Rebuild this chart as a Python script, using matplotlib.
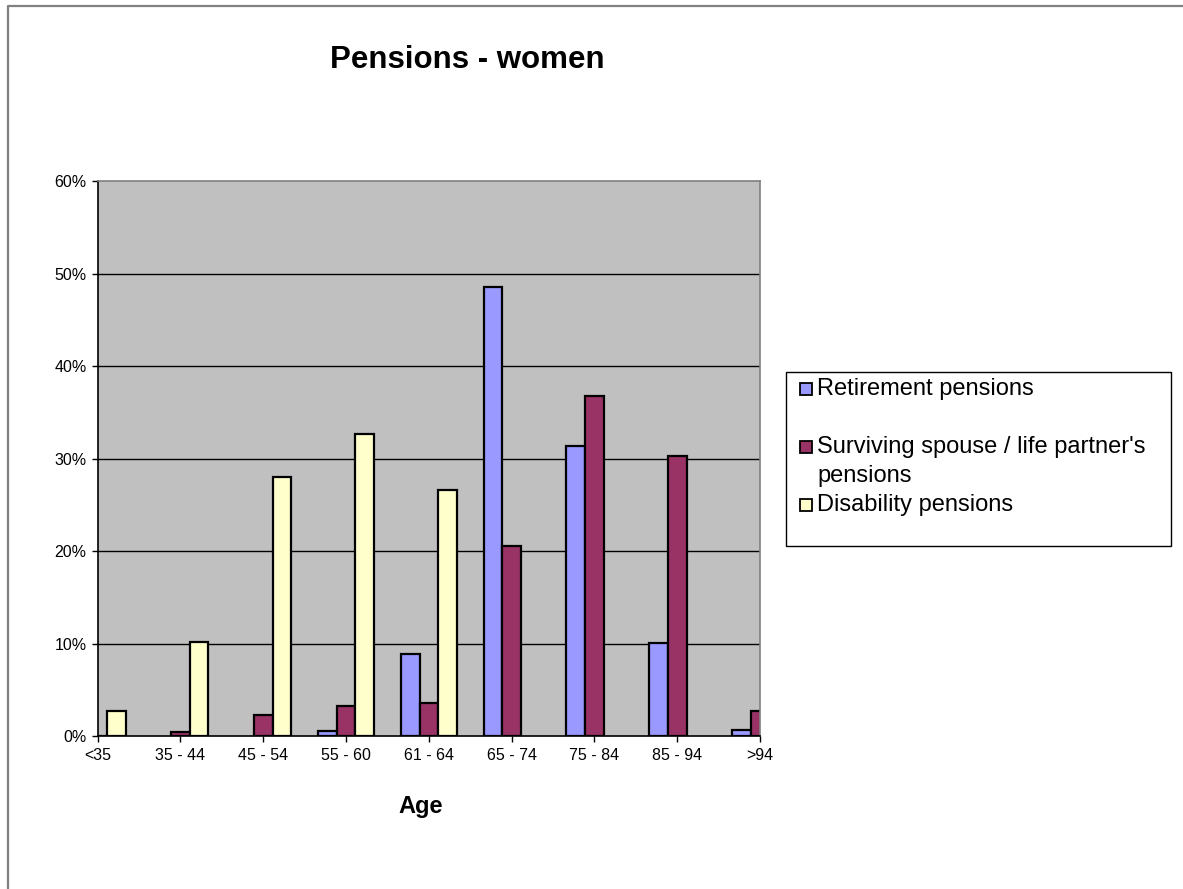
import matplotlib
matplotlib.use("Agg")
import matplotlib.pyplot as plt
import numpy as np
from matplotlib.patches import Rectangle
from matplotlib.lines import Line2D

categories = ["<35", "35 - 44", "45 - 54", "55 - 60", "61 - 64", "65 - 74", "75 - 84", "85 - 94", ">94"]
series_names = ["Retirement pensions", "Surviving spouse / life partner's\npensions", "Disability pensions"]
retirement = [0.0, 0.0, 0.0, 0.55, 8.9, 48.5, 31.4, 10.1, 0.6]
surviving = [0.05, 0.45, 2.3, 3.2, 3.6, 20.5, 36.8, 30.3, 2.75]
disability = [2.7, 10.2, 28.0, 32.6, 26.6, 0.0, 0.0, 0.0, 0.0]
colors = ["#9999FF", "#993366", "#FFFFCC"]
yticks = [0, 10, 20, 30, 40, 50, 60]

W, H = 1183, 889
plt.rcParams['font.family'] = ['Liberation Sans', 'DejaVu Sans']
fig = plt.figure(figsize=(W / 100, H / 100), dpi=100)

def fx(x):
    return x / W

def fy(y):
    return 1 - y / H

# outer chart border (left and top edges visible)
fig.add_artist(Line2D([fx(8), fx(8), fx(1183)], [fy(889), fy(5.5), fy(5.5)],
                      transform=fig.transFigure, color="#808080", lw=1.6))

left, right, top, bottom = 97.7, 760, 181, 736
ax = fig.add_axes([fx(left), fy(bottom), fx(right) - fx(left), fy(top) - fy(bottom)])
ax.set_facecolor("#C0C0C0")

x = np.arange(len(categories))
bw = 0.225
for i, (vals, c) in enumerate(zip([retirement, surviving, disability], colors)):
    edges = ["black" if v > 0 else "none" for v in vals]
    ax.bar(x + (i - 1) * bw, vals, width=bw, color=c, edgecolor=edges, linewidth=1.6, zorder=3)

ax.set_xlim(0, len(categories) - 1)
ax.set_ylim(0, 60)
ax.set_yticks(yticks)
ax.set_yticklabels([f"{v}%" for v in yticks], fontsize=11.5)
ax.set_xticks(x)
ax.set_xticklabels(categories, fontsize=11.5)
ax.tick_params(axis='both', direction='out', length=4, width=1, color="black")
ax.tick_params(axis='x', pad=5)
ax.tick_params(axis='y', pad=4)
for v in yticks[1:-1]:
    ax.axhline(v, color="black", lw=1, zorder=1)
ax.spines['left'].set_color("black")
ax.spines['bottom'].set_color("black")
ax.spines['top'].set_color("#808080")
ax.spines['right'].set_color("#808080")
for s in ax.spines.values():
    s.set_linewidth(1.2)
    s.set_zorder(4)

fig.text(fx(467), fy(60), "Pensions - women", ha="center", va="center",
         fontsize=22.5, fontweight="bold")
fig.text(fx(421), fy(806), "Age", ha="center", va="center", fontsize=17, fontweight="bold")

# legend
fig.patches.append(Rectangle((fx(786), fy(546)), fx(1171) - fx(786), fy(372) - fy(546),
                             transform=fig.transFigure, fill=True, facecolor="white",
                             edgecolor="black", lw=1))
entry_y = [389, 447, 505]
for name, c, yy in zip(series_names, colors, entry_y):
    fig.patches.append(Rectangle((fx(800), fy(yy + 6)), fx(812) - fx(800), fy(yy - 6) - fy(yy + 6),
                                 transform=fig.transFigure, facecolor=c, edgecolor="black", lw=1.3))
    lines = name.split("\n")
    for k, line in enumerate(lines):
        fig.text(fx(817), fy(yy + 29 * k), line, ha="left", va="center", fontsize=17)

fig.savefig("out.png", dpi=100)
